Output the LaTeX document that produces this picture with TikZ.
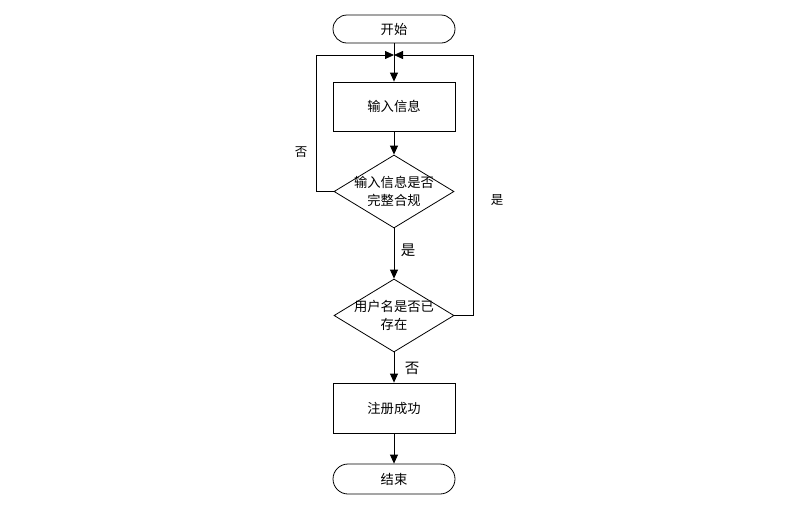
\documentclass[tikz,border=0pt]{standalone}
\usepackage{fontspec}
\newfontfamily\cjk{Noto Sans CJK SC}
\usetikzlibrary{shapes.geometric,shapes.misc,arrows.meta}
\begin{document}
\begin{tikzpicture}[x=1pt,y=-1pt,
  font=\cjk\fontsize{13.3}{18}\selectfont,
  line width=0.8pt,
  term/.style={draw, rounded rectangle, minimum width=122pt, minimum height=28pt, inner sep=0pt},
  proc/.style={draw, rectangle, minimum width=122pt, minimum height=49pt, inner sep=0pt},
  dec/.style={draw, diamond, minimum width=120pt, minimum height=73pt, inner sep=0pt},
  txt/.style={align=center, inner sep=0pt},
  lbl/.style={inner sep=0pt},
  arr/.style={-{Triangle[length=9pt,width=8pt]}}]
\useasboundingbox (0,0) rectangle (790,504);
\node[term] (s) at (394,29) {开始};
\node[proc] (b1) at (394,106.5) {输入信息};
\node[dec] (d1) at (394,191.5) {};
\node[txt] (t1) at (d1.center) {输入信息是否\\完整合规};
\node[dec] (d2) at (394,315.5) {};
\node[txt] (t2) at (d2.center) {用户名是否已\\存在};
\node[proc, minimum height=50pt] (b2) at (394,408) {注册成功};
\node[term, minimum height=30pt] (e) at (394,479) {结束};
\coordinate (m) at (394,55);
\coordinate (lt) at (316,55);
\coordinate (rt) at (473,55);
\draw[arr] (s.south) -- (b1.north);
\draw[arr] (b1.south) -- (d1.north);
\draw[arr] (d1.west) -| (lt) -- (m);
\draw[arr] (d2.east) -| (rt) -- (m);
\draw[arr] (d1.south) -- (d2.north);
\draw[arr] (d2.south) -- (b2.north);
\draw[arr] (b2.south) -- (e.north);
\node[lbl, font=\cjk\fontsize{12.5}{14}\selectfont] (n1) at (301,152) {否};
\node[lbl, font=\cjk\fontsize{14.5}{16}\selectfont] (y1) at (408,250) {是};
\node[lbl, font=\cjk\fontsize{12.5}{14}\selectfont] (y2) at (497,200) {是};
\node[lbl, font=\cjk\fontsize{14.5}{16}\selectfont] (n2) at (412,368) {否};
\end{tikzpicture}
\end{document}
